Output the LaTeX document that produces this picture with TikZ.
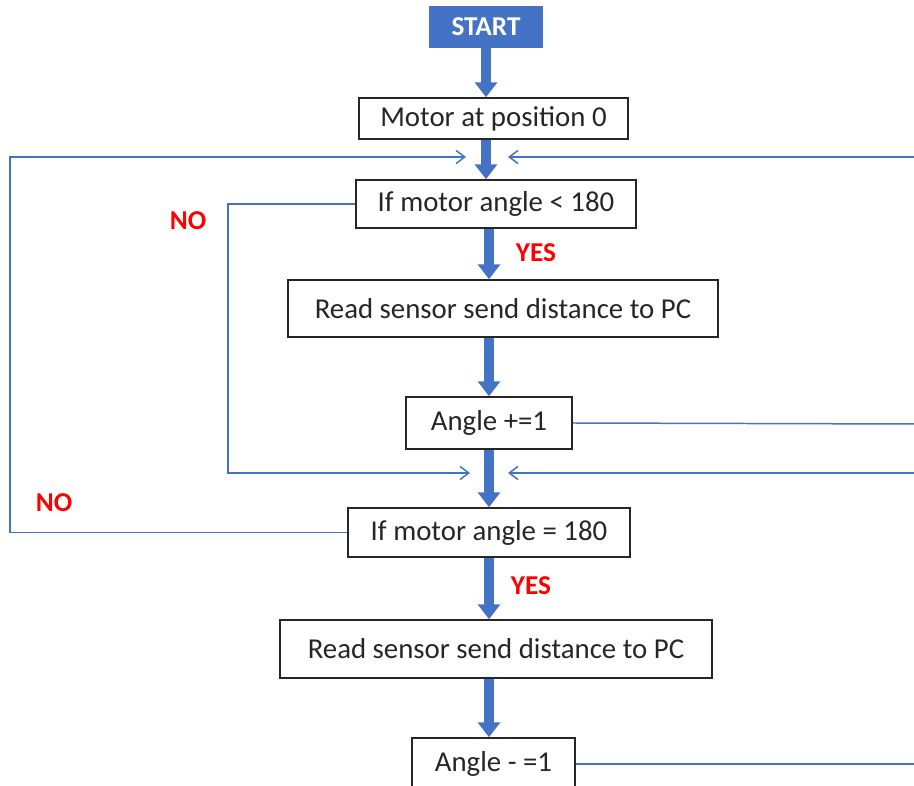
\documentclass[tikz,border=0pt]{standalone}
\usepackage{fontspec}
\setmainfont{Carlito}
\usetikzlibrary{arrows.meta}
\definecolor{bl}{HTML}{4472C4}
\definecolor{txt}{HTML}{262626}
\begin{document}
\begin{tikzpicture}[x=0.02cm,y=-0.02cm,
 box/.style={draw=black!85,line width=0.9pt,fill=white,inner sep=0pt,font=\fontsize{16.4}{19}\selectfont,text=txt},
 flow/.style={bl,line width=6pt,-{Triangle[width=12.5pt,length=8.5pt]}},
 fb/.style={bl,line width=0.85pt},
 fbarrow/.style={fb,-{Straight Barb[length=5pt,width=7.5pt]}},
 lab/.style={text=red,font=\bfseries\fontsize{15.5}{18}\selectfont}]
\useasboundingbox (0,0) rectangle (914,786);
\clip (0,0) rectangle (914,786);
% nodes
\node[box,fill=bl,draw=bl,text=white,font=\bfseries\fontsize{15.5}{18}\selectfont,minimum width=2.24cm,minimum height=0.8cm] (start) at (486,27) {START};
\node[box,minimum width=5.38cm,minimum height=0.82cm] (motor) at (493.5,118.5) {Motor at position 0};
\node[box,minimum width=5.6cm,minimum height=0.96cm] (if1) at (496,204) {If motor angle < 180};
\node[box,minimum width=8.6cm,minimum height=1.14cm] (read1) at (503,308.5) {Read sensor send distance to PC};
\node[box,minimum width=3.32cm,minimum height=1.04cm] (angp) at (489,423) {Angle +=1};
\node[box,minimum width=5.64cm,minimum height=0.98cm] (if2) at (489,532.5) {If motor angle = 180};
\node[box,minimum width=8.64cm,minimum height=1.16cm] (read2) at (496,649) {Read sensor send distance to PC};
\node[box,minimum width=3.26cm,minimum height=1.04cm] (angm) at (493.5,764) {Angle - =1};
% labels
\node[lab] (no1) at (188,221) {NO};
\node[lab] (no2) at (54,503) {NO};
\node[lab] (yes1) at (536,253) {YES};
\node[lab] (yes2) at (531,586) {YES};
% coordinates
\coordinate (col) at (489,0);
\coordinate (lx) at (10,0);
\coordinate (mx) at (228,0);
\coordinate (inAL) at (466,157);
\coordinate (inAR) at (508,157);
\coordinate (inBL) at (470,473);
\coordinate (inBR) at (508,473);
\coordinate (eA) at (914,157);
\coordinate (eB) at (914,424);
\coordinate (eC) at (914,473);
\coordinate (eD) at (914,764);
% main flow
\draw[flow] (start.south) -- (start.south |- motor.north);
\draw[flow] (start |- motor.south) -- (start |- if1.north);
\draw[flow] (col |- if1.south) -- (col |- read1.north);
\draw[flow] (col |- read1.south) -- (col |- angp.north);
\draw[flow] (col |- angp.south) -- (col |- if2.north);
\draw[flow] (col |- if2.south) -- (col |- read2.north);
\draw[flow] (col |- read2.south) -- (col |- angm.north);
% feedback lines
\draw[fbarrow] (if2.west) -- (if2.west -| lx) |- (inAL);
\draw[fbarrow] (if1.west) -- (if1.west -| mx) |- (inBL);
\draw[fbarrow] (eA) -- (inAR);
\draw[fbarrow] (eC) -- (inBR);
\draw[fb] (angp.east) -- (eB);
\draw[fb] (angm.east) -- (eD);
\end{tikzpicture}
\end{document}
